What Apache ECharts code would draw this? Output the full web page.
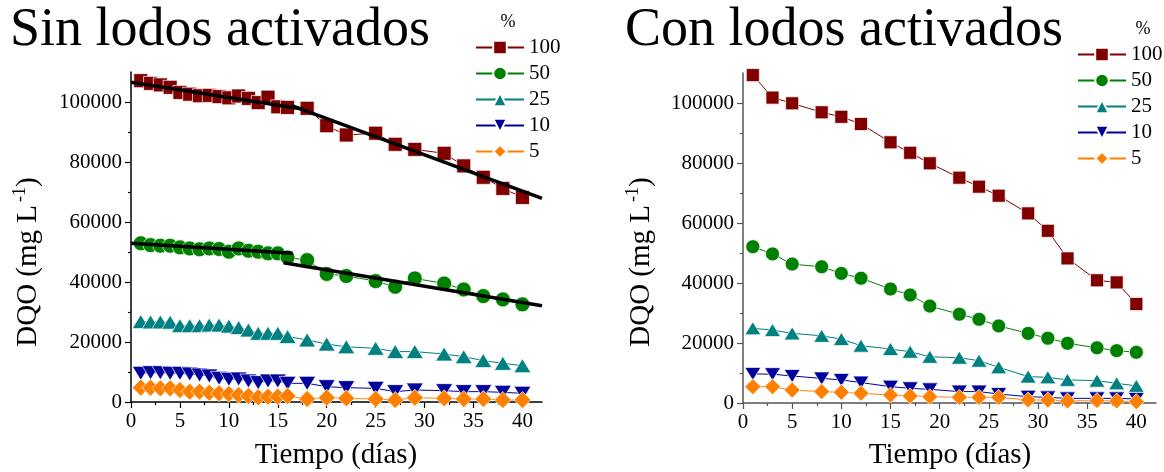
<!DOCTYPE html>
<html>
<head>
<meta charset="utf-8">
<script src="https://cdn.jsdelivr.net/npm/echarts@6/dist/echarts.min.js"></script>
<style>html,body{margin:0;padding:0;background:#fff}#c{width:1164px;height:472px}</style>
</head>
<body>
<div id="c"></div>
<script>
// ---- data ----
const seriesNames = ['100', '50', '25', '10', '5'];
const xTicks = [0, 5, 10, 15, 20, 25, 30, 35, 40];
const yTicks = [0, 20000, 40000, 60000, 80000, 100000];

const sinDays = [1,2,3,4,5,6,7,8,9,10,11,12,13,14,15,16,18,20,22,25,27,29,32,34,36,38,40];
const sin100 = [107100,106200,105700,104900,103200,102600,102100,102200,101800,101400,102000,101200,99800,101600,98400,98200,97900,92100,89000,89600,85900,84200,82900,78700,74900,71200,68200];
const sin50  = [52900,52300,52100,52100,51550,51200,50900,51200,51000,50100,51200,50400,50100,49550,49550,48200,47300,42700,42000,40300,38400,41200,39500,37500,35300,34200,32550];
const sin25  = [26800,26700,26700,26600,25450,25450,25450,25650,25650,25300,24800,24000,22900,22900,22900,21800,20700,19300,18400,17900,16800,16800,16000,15100,13800,12900,12100];
const sin10  = [9550,9770,9770,9550,9550,9330,9000,8670,7900,7570,7670,7000,6450,7000,7000,6220,6220,5100,4780,4550,3450,4000,3780,3450,3450,3220,2900];
const sin5   = [4780,4780,4550,4550,4000,3450,3450,3100,2900,2670,2330,2000,1550,1780,1780,2000,1000,1440,1220,1000,670,1440,1220,1000,1000,670,670];

const conDays = [1,3,5,8,10,12,15,17,19,22,24,26,29,31,33,36,38,40];
const con100 = [109300,101800,99900,96900,95400,93000,86900,83400,79900,75100,72100,69100,63200,57400,48200,40900,40200,33000];
const con50  = [52100,49700,46300,45400,43200,41600,38000,36000,32300,29600,27900,25700,23200,21600,19900,18400,17450,16900];
const con25  = [24900,24300,23200,22400,21300,19100,18000,17100,15400,15100,14100,11900,8800,8550,7700,7450,6550,5700];
const con10  = [9700,9600,9000,8200,7700,6800,5450,4900,4550,3800,3800,3000,2100,1880,1550,1550,1550,1350];
const con5   = [5450,5450,4300,3800,3550,3250,2650,2350,2100,1900,1900,1900,1000,1000,670,800,670,450];

// fitted trend lines (left panel)
const trend100a = [[0,106600],[17.5,97700]];
const trend100b = [[16.5,98700],[42,67900]];
const trend50a  = [[0,52900],[16.5,49550]];
const trend50b  = [[15.6,46400],[42,32100]];

// ---- styling ----
const FONT = 'Liberation Serif';
const colors = {'100':'#800000','50':'#008000','25':'#008080','10':'#00009a','5':'#ff8000'};
const symbols = {'100':'rect','50':'circle','25':'triangle','10':'triangle','5':'diamond'};
const rotate = {'100':0,'50':0,'25':0,'10':180,'5':0};

function pair(days, vals){ return days.map((d,i)=>[d, vals[i]]); }

function sizeFor(name, big){
  const s = big ? 14 : 13;
  if (name === '25' || name === '10') return [s+3, s];
  if (name === '5') return s+3;
  if (name === '50') return s+1;
  return s;
}

function dataSeries(name, days, vals, idx, big){
  return {
    type:'line', name:name, xAxisIndex:idx, yAxisIndex:idx,
    data: pair(days, vals),
    symbol: symbols[name], symbolRotate: rotate[name], symbolSize: sizeFor(name, big),
    showAllSymbol:true,
    lineStyle:{color:colors[name], width:1},
    itemStyle:{color:colors[name], borderColor:'#ffffff', borderWidth:0.7},
    emphasis:{disabled:true}, animation:false, z:2
  };
}
function trendSeries(d){
  return {type:'line', name:'trend', xAxisIndex:0, yAxisIndex:0, data:d, symbol:'none',
    lineStyle:{color:'#000', width:3.5}, emphasis:{disabled:true}, animation:false, z:5, silent:true};
}

const richNum = v => '{t|' + v + '}';
const richStyle = {t:{fontFamily:FONT, fontSize:21, color:'#000', fontWeight:'normal', fontStyle:'normal'}};

function xAxisCfg(idx, axisColor){
  return {type:'value', gridIndex:idx, min:0, max:42, interval:5,
    axisLine:{show:true, onZero:false, lineStyle:{color:axisColor, width:1.5}},
    axisTick:{show:true, inside:false, length:6, customValues:xTicks, lineStyle:{color:axisColor, width:1.2}},
    minorTick:{show:true, splitNumber:2, length:3, lineStyle:{color:axisColor, width:1.2}},
    axisLabel:{customValues:xTicks, formatter:richNum, rich:richStyle, fontFamily:FONT, fontSize:21, color:'#000', margin:9},
    splitLine:{show:false}, minorSplitLine:{show:false}};
}
function yAxisCfg(idx, axisColor){
  return {type:'value', gridIndex:idx, min:0, max:110000, interval:20000,
    axisLine:{show:true, onZero:false, lineStyle:{color:axisColor, width:1.5}},
    axisTick:{show:true, inside:false, length:6, customValues:yTicks, lineStyle:{color:axisColor, width:1.2}},
    minorTick:{show:true, splitNumber:2, length:3, lineStyle:{color:axisColor, width:1.2}},
    axisLabel:{customValues:yTicks, formatter:richNum, rich:richStyle, fontFamily:FONT, fontSize:21, color:'#000', margin:9},
    splitLine:{show:false}, minorSplitLine:{show:false}};
}

const sinVals = [sin100, sin50, sin25, sin10, sin5];
const conVals = [con100, con50, con25, con10, con5];

const series = [];
seriesNames.forEach((n,i)=>series.push(dataSeries(n, sinDays, sinVals[i], 0, true)));
seriesNames.forEach((n,i)=>series.push(dataSeries(n, conDays, conVals[i], 1, false)));
[trend100a, trend100b, trend50a, trend50b].forEach(t=>series.push(trendSeries(t)));

function legendCfg(left, top){
  return {show:true, orient:'vertical', left:left, top:top, data:seriesNames,
    itemWidth:48, itemHeight:17, itemGap:5, selectedMode:false, padding:0,
    formatter: n => '{t|' + n + '}',
    textStyle:{fontFamily:FONT, fontSize:21, color:'#000', rich:richStyle}};
}

function axisTitleY(cx){
  return {type:'text', x:cx, y:262, rotation:Math.PI/2, silent:true,
    style:{text:'{a|DQO (mg L}{s|-1}{a|)}', align:'center', verticalAlign:'middle', fill:'#000',
      rich:{a:{fontFamily:FONT, fontSize:29, lineHeight:32, verticalAlign:'bottom'},
            s:{fontFamily:FONT, fontSize:18, lineHeight:32, verticalAlign:'top', padding:[0,0,0,3]}}}};
}

const option = {
  backgroundColor:'#fff',
  animation:false,
  textStyle:{fontFamily:FONT},
  grid:[{left:131, top:72, width:411, height:330}, {left:743, top:73, width:413, height:330}],
  xAxis:[xAxisCfg(0,'#000'), xAxisCfg(1,'#555')],
  yAxis:[yAxisCfg(0,'#000'), yAxisCfg(1,'#555')],
  legend:[legendCfg(475, 37), legendCfg(1077, 44)],
  series: series,
  graphic:[
    {type:'text', x:10, y:31, silent:true, style:{text:'Sin lodos activados', font:"54px 'Liberation Serif'", fill:'#000', verticalAlign:'middle'}},
    {type:'text', x:625, y:31, silent:true, style:{text:'Con lodos activados', font:"54px 'Liberation Serif'", fill:'#000', verticalAlign:'middle'}},
    {type:'text', x:508, y:22, silent:true, style:{text:'%', font:"18px 'Liberation Serif'", fill:'#000', align:'center', verticalAlign:'middle'}},
    {type:'text', x:1143, y:29, silent:true, style:{text:'%', font:"18px 'Liberation Serif'", fill:'#000', align:'center', verticalAlign:'middle'}},
    {type:'text', x:336, y:455, silent:true, style:{text:'Tiempo (días)', font:"29px 'Liberation Serif'", fill:'#000', align:'center', verticalAlign:'middle'}},
    {type:'text', x:950, y:455, silent:true, style:{text:'Tiempo (días)', font:"29px 'Liberation Serif'", fill:'#000', align:'center', verticalAlign:'middle'}},
    axisTitleY(27),
    axisTitleY(640)
  ]
};

const chart = echarts.init(document.getElementById('c'), null, {renderer:'canvas'});
chart.setOption(option);
</script>
</body>
</html>
